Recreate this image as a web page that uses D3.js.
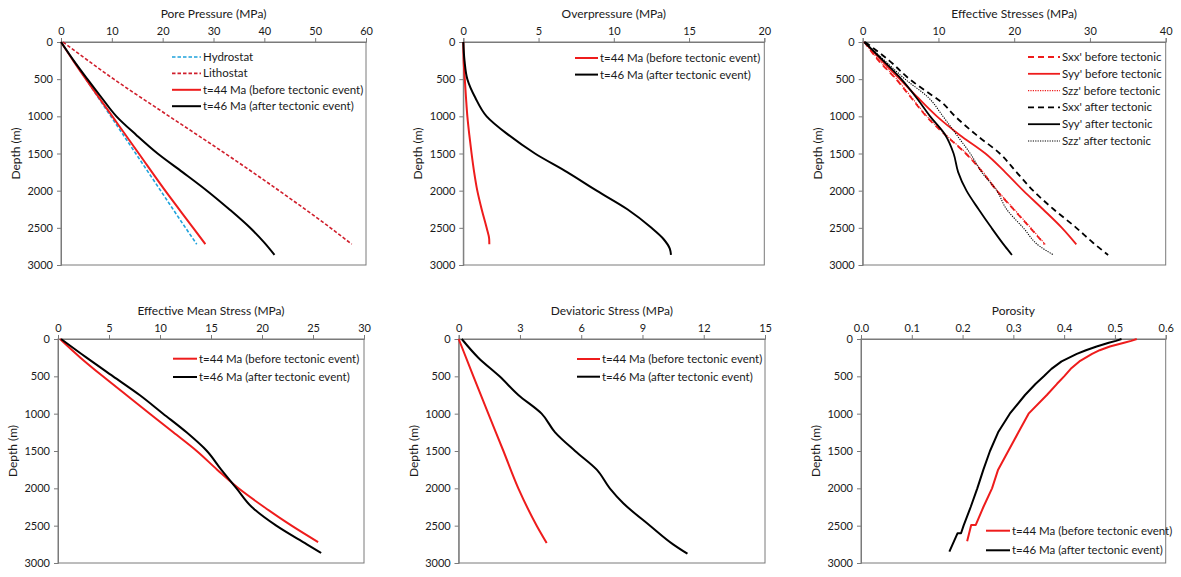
<!DOCTYPE html>
<html><head><meta charset="utf-8">
<script src="https://cdn.jsdelivr.net/npm/d3@7"></script>
<style>
html,body{margin:0;padding:0;background:#fff;}
svg{display:block;}
text{font-family:Lato,"Open Sans",sans-serif;fill:#1a1a1a;}
</style></head>
<body><svg id="c" width="1181" height="577"></svg>
<script>
// ---------- DATA ----------
const depthTicks = [0, 500, 1000, 1500, 2000, 2500, 3000];
const ppTicks = [0, 10, 20, 30, 40, 50, 60];
const opTicks = [0, 5, 10, 15, 20];
const esTicks = [0, 10, 20, 30, 40];
const emsTicks = [0, 5, 10, 15, 20, 25, 30];
const dsTicks = [0, 3, 6, 9, 12, 15];
const porTicks = [0, 0.1, 0.2, 0.3, 0.4, 0.5, 0.6];

const legendBefore = "t=44 Ma (before tectonic event)";
const legendAfter = "t=46 Ma (after tectonic event)";

// Pore pressure (MPa)
const hydroDepth = [0, 500, 1000, 1500, 2000, 2500, 2720];
const hydroP = [0, 4.9, 9.8, 14.7, 19.6, 24.5, 26.7];
const lithoDepth = [0, 500, 1000, 1500, 2000, 2500, 2720];
const lithoP = [0.4, 10.4, 21.3, 32.3, 42.9, 53.0, 57.2];
const pp44Depth = [0, 250, 500, 1000, 1500, 2000, 2500, 2720];
const pp44 = [0, 2.4, 4.9, 10.1, 15.3, 20.5, 26.0, 28.4];
const pp46Depth = [0, 250, 500, 750, 1000, 1250, 1500, 1750, 2000, 2250, 2500, 2700, 2865];
const pp46 = [0, 2.5, 5.2, 8.0, 10.9, 14.8, 19.0, 23.9, 28.7, 33.1, 37.2, 40.0, 42.0];

// Overpressure (MPa)
const op44Depth = [0, 250, 500, 750, 1000, 1250, 1500, 1750, 2000, 2250, 2500, 2650, 2720];
const op44 = [0, 0.02, 0.1, 0.18, 0.27, 0.4, 0.55, 0.72, 0.93, 1.22, 1.55, 1.72, 1.73];
const op46Depth = [0, 250, 500, 750, 1000, 1250, 1500, 1750, 2000, 2250, 2500, 2650, 2780, 2865];
const op46 = [0, 0.08, 0.27, 0.8, 1.55, 3.0, 4.76, 6.9, 8.86, 10.9, 12.5, 13.3, 13.72, 13.8];

// Effective stresses (MPa)
const es44Depth = [0, 250, 500, 750, 1000, 1250, 1500, 1750, 2000, 2250, 2500, 2722];
const sxx44 = [0.2, 2.1, 4.4, 6.4, 8.4, 10.9, 13.6, 15.8, 17.7, 19.9, 22.1, 24.0];
const syy44 = [0.2, 2.5, 4.9, 7.3, 9.8, 12.8, 16.2, 18.8, 21.2, 23.8, 26.3, 28.2];
const szz44 = [0.2, 2.2, 4.5, 6.5, 8.5, 11.0, 13.7, 15.9, 17.8, 20.0, 22.2, 24.1];
const sxx46Depth = [0, 250, 500, 700, 800, 1000, 1250, 1500, 1750, 2000, 2250, 2500, 2700, 2865];
const sxx46 = [0.3, 3.5, 6.2, 8.9, 10.3, 12.2, 15.0, 18.1, 20.3, 22.5, 25.2, 28.2, 30.4, 32.4];
const es46Depth = [0, 250, 500, 750, 1000, 1250, 1500, 1750, 2000, 2250, 2500, 2750, 2865];
const syy46 = [0.2, 2.7, 5.1, 7.1, 8.9, 10.9, 12.0, 12.6, 13.7, 15.3, 17.0, 18.8, 19.7];
const szz46 = [0.2, 2.9, 5.6, 8.7, 10.6, 12.4, 14.2, 15.7, 17.7, 19.0, 21.2, 23.4, 25.2];

// Effective mean stress (MPa)
const ems44Depth = [0, 250, 500, 750, 1000, 1250, 1500, 1750, 2000, 2250, 2500, 2720];
const ems44 = [0.2, 2.2, 4.4, 6.7, 9.0, 11.3, 13.6, 15.6, 17.7, 20.2, 22.9, 25.5];
const ems46Depth = [0, 250, 500, 750, 1000, 1250, 1500, 1750, 1900, 2000, 2250, 2500, 2750, 2866];
const ems46 = [0.3, 2.8, 5.4, 8.0, 10.3, 12.6, 14.6, 16.0, 16.9, 17.5, 19.0, 21.4, 24.4, 25.8];

// Deviatoric stress (MPa)
const ds44Depth = [0, 500, 1000, 1500, 2000, 2500, 2733];
const ds44 = [0, 0.72, 1.45, 2.19, 2.92, 3.82, 4.31];
const ds46Depth = [0, 250, 500, 750, 1000, 1250, 1500, 1750, 2000, 2200, 2500, 2750, 2876];
const ds46 = [0.15, 0.96, 2.0, 2.92, 4.06, 4.72, 5.7, 6.76, 7.4, 8.06, 9.37, 10.5, 11.2];

// Porosity
const por44Depth = [0, 25, 50, 100, 150, 200, 300, 400, 500, 600, 750, 1000, 1250, 1500, 1750, 2000, 2250, 2490, 2490, 2709];
const por44 = [0.543, 0.532, 0.518, 0.49, 0.47, 0.455, 0.43, 0.413, 0.40, 0.386, 0.366, 0.33, 0.31, 0.29, 0.27, 0.258, 0.241, 0.226, 0.217, 0.209];
const por46Depth = [0, 25, 50, 100, 150, 200, 300, 400, 500, 600, 750, 1000, 1250, 1500, 1750, 2000, 2250, 2500, 2602, 2602, 2848];
const por46 = [0.513, 0.502, 0.488, 0.464, 0.443, 0.425, 0.395, 0.375, 0.36, 0.344, 0.323, 0.293, 0.27, 0.254, 0.241, 0.229, 0.216, 0.202, 0.197, 0.19, 0.174];

// ---------- STYLES ----------
const RED = "#ee1c1c", BLACK = "#000", BLUE = "#1fa3dc", DRED = "#d01f2c";
const sBefore = {color: RED, w: 2};
const sAfter = {color: BLACK, w: 2};

const zip = (d, v) => d.map((x, i) => ({depth: x, value: v[i]}));

const panels = [
  {title: "Pore Pressure (MPa)", ticks: ppTicks, fmt: d3.format("d"),
   box: [61, 42, 366, 265],
   legend: {x1: 172, x2: 201, y0: 57, dy: 16.4},
   series: [
     {name: "Hydrostat", data: zip(hydroDepth, hydroP), color: BLUE, w: 1.6, dash: "3.5,2"},
     {name: "Lithostat", data: zip(lithoDepth, lithoP), color: DRED, w: 1.6, dash: "3.5,2"},
     {name: legendBefore, data: zip(pp44Depth, pp44), ...sBefore},
     {name: legendAfter, data: zip(pp46Depth, pp46), ...sAfter}]},
  {title: "Overpressure (MPa)", ticks: opTicks, fmt: d3.format("d"),
   box: [463.3, 42, 764.3, 265],
   legend: {x1: 575, x2: 598, y0: 58, dy: 16.6},
   series: [
     {name: legendBefore, data: zip(op44Depth, op44), ...sBefore},
     {name: legendAfter, data: zip(op46Depth, op46), ...sAfter}]},
  {title: "Effective Stresses (MPa)", ticks: esTicks, fmt: d3.format("d"),
   box: [862.7, 42, 1165.7, 265],
   legend: {x1: 1028, x2: 1060, y0: 57, dy: 16.8},
   series: [
     {name: "Sxx' before tectonic", data: zip(es44Depth, sxx44), color: RED, w: 1.8, dash: "6,4"},
     {name: "Syy' before tectonic", data: zip(es44Depth, syy44), color: RED, w: 1.8},
     {name: "Szz' before tectonic", data: zip(es44Depth, szz44), color: RED, w: 1.1, dash: "1.2,1.2"},
     {name: "Sxx' after tectonic", data: zip(sxx46Depth, sxx46), color: BLACK, w: 1.8, dash: "6,4"},
     {name: "Syy' after tectonic", data: zip(es46Depth, syy46), color: BLACK, w: 1.8},
     {name: "Szz' after tectonic", data: zip(es46Depth, szz46), color: BLACK, w: 1.1, dash: "1.2,1.2"}]},
  {title: "Effective Mean Stress (MPa)", ticks: emsTicks, fmt: d3.format("d"),
   box: [58, 339, 364, 563],
   legend: {x1: 173, x2: 197, y0: 358.7, dy: 18.3},
   series: [
     {name: legendBefore, data: zip(ems44Depth, ems44), ...sBefore},
     {name: legendAfter, data: zip(ems46Depth, ems46), ...sAfter}]},
  {title: "Deviatoric Stress (MPa)", ticks: dsTicks, fmt: d3.format("d"),
   box: [458.7, 339, 765, 563],
   legend: {x1: 577, x2: 600, y0: 359, dy: 17.7},
   series: [
     {name: legendBefore, data: zip(ds44Depth, ds44), ...sBefore},
     {name: legendAfter, data: zip(ds46Depth, ds46), ...sAfter}]},
  {title: "Porosity", ticks: porTicks, fmt: d3.format(".1f"), steps: true,
   box: [861, 339, 1165.7, 563],
   legend: {x1: 986, x2: 1010, y0: 530.7, dy: 19.6},
   series: [
     {name: legendBefore, data: zip(por44Depth, por44), ...sBefore},
     {name: legendAfter, data: zip(por46Depth, por46), ...sAfter}]}
];

const svg = d3.select("#c");
const AXC = "#7a7a7a";

panels.forEach(p => {
  const [l, t, r, b] = p.box;
  const x = d3.scaleLinear().domain([p.ticks[0], p.ticks[p.ticks.length - 1]]).range([l, r]);
  const y = d3.scaleLinear().domain([0, 3000]).range([t, b]);
  const g = svg.append("g");

  g.append("rect").attr("x", l).attr("y", t).attr("width", r - l).attr("height", b - t)
    .attr("fill", "none").attr("stroke", AXC).attr("stroke-width", 1);

  const xa = g.append("g").attr("transform", `translate(0,${t})`)
    .call(d3.axisTop(x).tickValues(p.ticks).tickFormat(p.fmt).tickSize(4).tickPadding(3));
  const ya = g.append("g").attr("transform", `translate(${l},0)`)
    .call(d3.axisLeft(y).tickValues(depthTicks).tickFormat(d3.format("d")).tickSize(4).tickPadding(4));
  [xa, ya].forEach(a => {
    a.select(".domain").attr("stroke", AXC);
    a.selectAll(".tick line").attr("stroke", AXC);
    a.selectAll(".tick text").style("font-family", "Lato, sans-serif").style("font-size", "11px").attr("fill", "#1a1a1a");
  });

  g.append("text").attr("x", (l + r) / 2).attr("y", t - 24).attr("text-anchor", "middle")
    .style("font-size", "12px").text(p.title);
  g.append("text").attr("transform", `translate(${l - 41},${(t + b) / 2}) rotate(-90)`)
    .attr("text-anchor", "middle").style("font-size", "12px").text("Depth (m)");

  const curve = p.steps ? d3.curveLinear : d3.curveMonotoneY;
  const line = d3.line().x(d => x(d.value)).y(d => y(d.depth)).curve(curve);
  p.series.forEach(s => {
    g.append("path").datum(s.data).attr("d", line).attr("fill", "none")
      .attr("stroke", s.color).attr("stroke-width", s.w)
      .attr("stroke-dasharray", s.dash || null).attr("stroke-linejoin", "round");
  });

  const lg = p.legend;
  p.series.forEach((s, i) => {
    const yy = lg.y0 + i * lg.dy;
    g.append("line").attr("x1", lg.x1).attr("x2", lg.x2).attr("y1", yy).attr("y2", yy)
      .attr("stroke", s.color).attr("stroke-width", s.w).attr("stroke-dasharray", s.dash || null);
    g.append("text").attr("x", lg.x2 + 2).attr("y", yy + 4).style("font-size", "11.5px").text(s.name);
  });
});
</script></body></html>
